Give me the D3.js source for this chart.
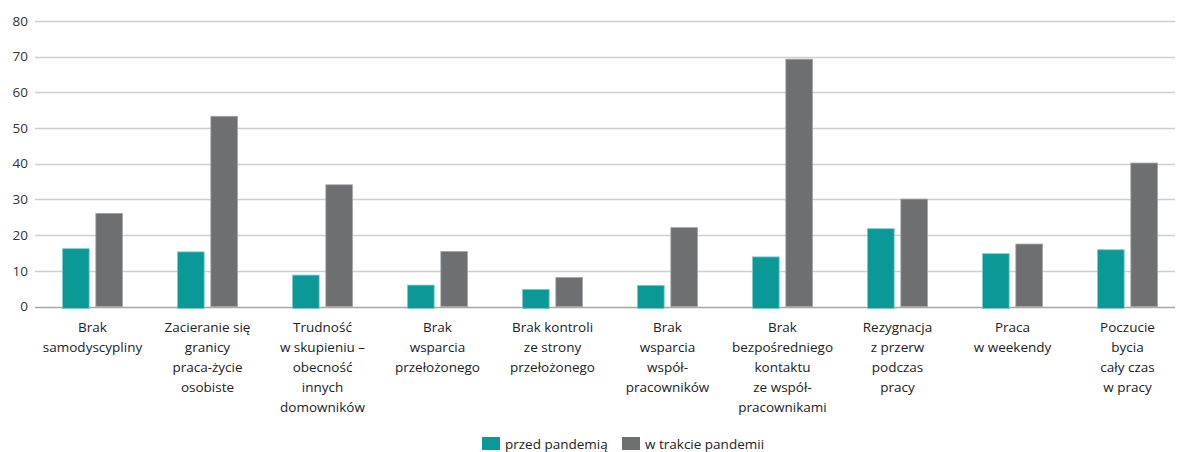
<!DOCTYPE html>
<html>
<head>
<meta charset="utf-8">
<script src="https://cdn.jsdelivr.net/npm/d3@7"></script>
<style>
  body { margin: 0; background: #fff; }
  svg { display: block; font-family: "Open Sans", "Noto Sans", sans-serif; }
</style>
</head>
<body>
<div id="chart"></div>
<script>
// category labels, one array of lines each
const categories = [
  ['Brak', 'samodyscypliny'],
  ['Zacieranie się', 'granicy', 'praca-życie', 'osobiste'],
  ['Trudność', 'w skupieniu –', 'obecność', 'innych', 'domowników'],
  ['Brak', 'wsparcia', 'przełożonego'],
  ['Brak kontroli', 'ze strony', 'przełożonego'],
  ['Brak', 'wsparcia', 'współ-', 'pracowników'],
  ['Brak', 'bezpośredniego', 'kontaktu', 'ze współ-', 'pracownikami'],
  ['Rezygnacja', 'z przerw', 'podczas', 'pracy'],
  ['Praca', 'w weekendy'],
  ['Poczucie', 'bycia', 'cały czas', 'w pracy']
];
const seriesNames = ['przed pandemią', 'w trakcie pandemii'];
const beforeValues = [16.2, 15.3, 8.8, 6.0, 4.8, 5.9, 13.9, 21.8, 14.8, 15.9];
const duringValues = [26.1, 53.3, 34.1, 15.4, 8.1, 22.1, 69.3, 30.1, 17.5, 40.2];
const yTicks = [0, 10, 20, 30, 40, 50, 60, 70, 80];

const width = 1177, height = 452;
const margin = {top: 21, right: 2, bottom: 145, left: 35};
const colors = ['#0b9997', '#6e6f71'];

const svg = d3.select('#chart').append('svg')
  .attr('width', width)
  .attr('height', height);

// groups are spaced a little wider than the gridline span
const x = d3.scaleBand()
  .domain(d3.range(categories.length))
  .range([margin.left, margin.left + 115 * categories.length]);

const y = d3.scaleLinear()
  .domain([0, 80])
  .range([height - margin.bottom - 0.5, margin.top]);

const inner = d3.scaleBand()
  .domain([0, 1])
  .range([x.bandwidth() / 2 - 30, x.bandwidth() / 2 + 30])
  .paddingInner(0.2);

// gridlines
svg.append('g')
  .selectAll('line')
  .data(yTicks)
  .enter()
  .append('line')
  .attr('x1', margin.left)
  .attr('x2', width - margin.right)
  .attr('y1', d => Math.round(y(d)) + 0.5)
  .attr('y2', d => Math.round(y(d)) + 0.5)
  .attr('stroke', d => d === 0 ? '#a6a6a6' : '#cfcfcf')
  .attr('stroke-width', 1.3);

// y tick labels
svg.append('g')
  .selectAll('text')
  .data(yTicks)
  .enter()
  .append('text')
  .attr('x', 28)
  .attr('y', d => y(d))
  .attr('dy', '0.35em')
  .attr('text-anchor', 'end')
  .style('font-size', '13.5px')
  .style('fill', '#333')
  .text(d => d);

// bars
const data = categories.map((c, i) => [beforeValues[i], duringValues[i]]);
const groups = svg.append('g')
  .selectAll('g')
  .data(data)
  .enter()
  .append('g')
  .attr('transform', (d, i) => 'translate(' + x(i) + ',0)');

groups.selectAll('rect')
  .data(d => d)
  .enter()
  .append('rect')
  .attr('x', (d, j) => inner(j))
  .attr('width', inner.bandwidth())
  .attr('y', d => y(d))
  .attr('height', (d, j) => y(0) - y(d) + (j === 0 ? 2 : 0))
  .attr('fill', (d, j) => colors[j])
  .attr('stroke', (d, j) => j === 0 ? '#7ccac8' : '#a3a4a6')
  .attr('stroke-width', 0.8);

// category labels
const labels = svg.append('g')
  .selectAll('text')
  .data(categories)
  .enter()
  .append('text')
  .attr('x', (d, i) => x(i) + x.bandwidth() / 2)
  .attr('y', 332)
  .attr('text-anchor', 'middle')
  .style('font-size', '13.5px')
  .style('fill', '#222');

labels.selectAll('tspan')
  .data(d => d)
  .enter()
  .append('tspan')
  .attr('x', function () { return d3.select(this.parentNode).attr('x'); })
  .attr('dy', (d, k) => k === 0 ? 0 : 20)
  .text(d => d);

// legend
const legendX = [482, 622];
const legend = svg.append('g')
  .selectAll('g')
  .data(seriesNames)
  .enter()
  .append('g')
  .attr('transform', (d, i) => 'translate(' + legendX[i] + ',437)');

legend.append('rect')
  .attr('width', 18)
  .attr('height', 13)
  .attr('fill', (d, i) => colors[i]);

legend.append('text')
  .attr('x', 23)
  .attr('y', 7)
  .attr('dy', '0.35em')
  .style('font-size', '13.5px')
  .style('fill', '#222')
  .text(d => d);
</script>
</body>
</html>
